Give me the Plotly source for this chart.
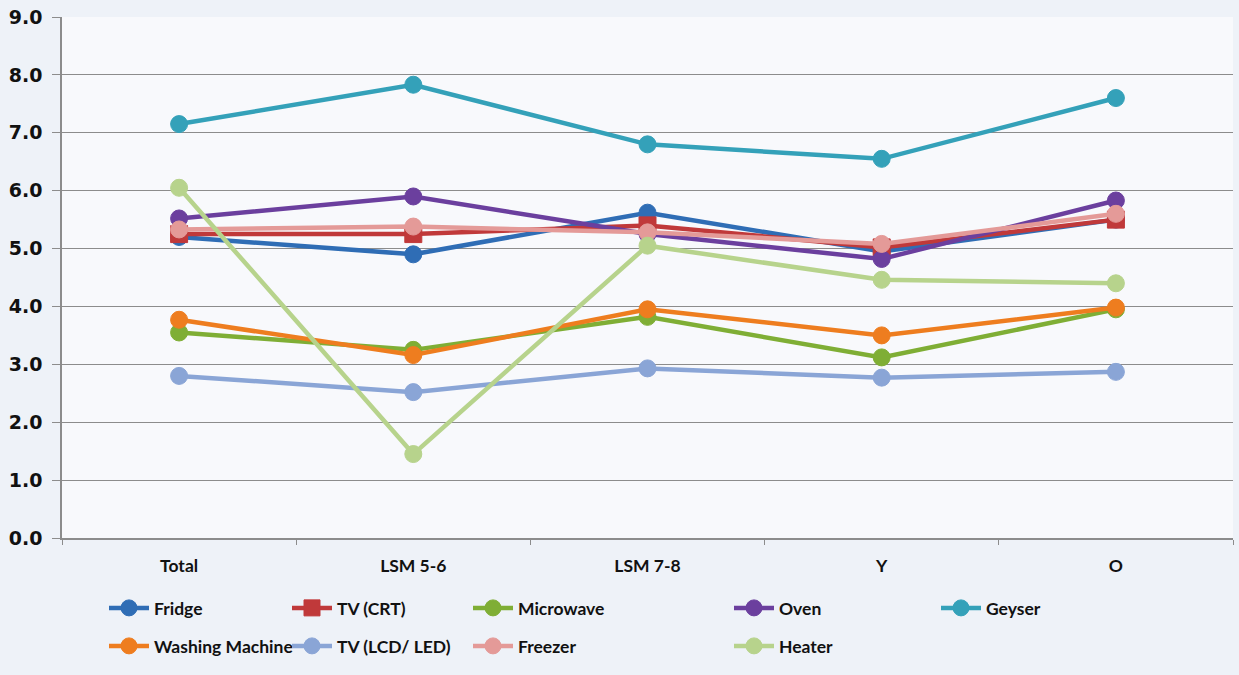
import plotly.graph_objects as go

categories = ["Total", "LSM 5-6", "LSM 7-8", "Y", "O"]

fridge = [5.2, 4.9, 5.62, 4.95, 5.5]
tv_crt = [5.25, 5.25, 5.4, 5.02, 5.5]
microwave = [3.55, 3.25, 3.82, 3.12, 3.95]
oven = [5.52, 5.9, 5.25, 4.82, 5.83]
geyser = [7.15, 7.83, 6.8, 6.55, 7.6]
washing = [3.77, 3.16, 3.95, 3.5, 3.98]
tv_lcd = [2.8, 2.52, 2.93, 2.77, 2.87]
freezer = [5.33, 5.38, 5.28, 5.08, 5.6]
heater = [6.05, 1.45, 5.05, 4.46, 4.4]

series = [
    ("Fridge", fridge, "#2f6db5", "circle"),
    ("TV (CRT)", tv_crt, "#c0393a", "square"),
    ("Microwave", microwave, "#7fae35", "circle"),
    ("Oven", oven, "#6b3f9e", "circle"),
    ("Geyser", geyser, "#34a1b9", "circle"),
    ("Washing Machine", washing, "#ee7d1f", "circle"),
    ("TV (LCD/ LED)", tv_lcd, "#8aa5d6", "circle"),
    ("Freezer", freezer, "#e49a98", "circle"),
    ("Heater", heater, "#b7d38c", "circle"),
]

# legend pixel positions (symbol left x, row center y)
legend_pos = [
    (104, 608), (287, 608), (468, 608), (729, 608), (936, 608),
    (104, 646), (287, 646), (468, 646), (729, 646),
]

W, H = 1239, 675
fig = go.Figure()
layout_legends = {}
for i, (name, vals, col, sym) in enumerate(series):
    lname = "legend" if i == 0 else f"legend{i+1}"
    fig.add_trace(go.Scatter(
        x=categories, y=vals, name=name, mode="lines+markers",
        line=dict(color=col, width=4.5),
        marker=dict(color=col, size=17, symbol=sym,
                    line=dict(color=col, width=1)),
        legend=lname,
    ))
    px, py = legend_pos[i]
    layout_legends[lname] = dict(
        x=px / W, y=1 - py / H, xref="container", yref="container",
        xanchor="left", yanchor="middle",
        bgcolor="rgba(0,0,0,0)", itemwidth=40,
        font=dict(family="Lato, Open Sans", size=17.5, color="#111111",
                  weight="bold"),
        tracegroupgap=0, borderwidth=0,
    )

fig.update_layout(
    width=W, height=H,
    margin=dict(l=62, r=6, t=17, b=137, autoexpand=False),
    paper_bgcolor="#eef2f8",
    plot_bgcolor="#f8f9fc",
    showlegend=True,
    **layout_legends,
)
fig.update_yaxes(
    range=[0, 9], dtick=1, tickformat=".1f",
    showgrid=True, gridcolor="#8c8c8c", gridwidth=1.3,
    showline=True, linecolor="#8c8c8c", linewidth=1.5,
    ticks="outside", ticklen=8, tickcolor="#8c8c8c",
    ticklabelstandoff=6,
    tickfont=dict(family="DejaVu Sans", size=19, color="#111111", weight="bold"),
    zeroline=False, automargin=False,
)
fig.update_xaxes(
    showgrid=False, showline=True, linecolor="#8c8c8c", linewidth=1.5,
    ticks="outside", ticklen=5, tickcolor="#8c8c8c", tickson="boundaries",
    tickangle=0, automargin=False, ticklabelstandoff=11,
    tickfont=dict(family="Lato, Open Sans", size=17.5, color="#111111",
                  weight="bold"),
    range=[-0.5, 4.5],
)
fig.write_html("out.html", config={"displayModeBar": False})
with open("out.html", encoding="utf-8") as f:
    html = f.read()
html = html.replace("<head>", "<head><style>html,body{margin:0;padding:0;}</style>", 1)
with open("out.html", "w", encoding="utf-8") as f:
    f.write(html)
